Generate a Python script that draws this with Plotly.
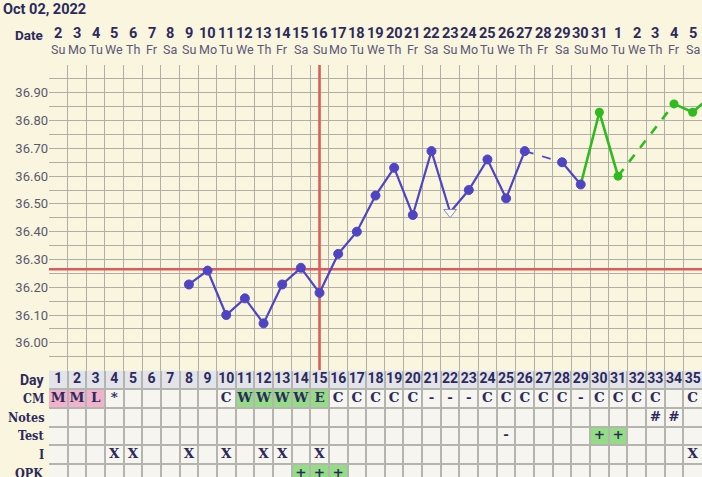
import plotly.graph_objects as go

# ---------------- data ----------------
cycle_days = list(range(1, 36))
date_labels = [str(d) for d in range(2, 32)] + [str(d) for d in range(1, 6)]
weekday_names = ["Su", "Mo", "Tu", "We", "Th", "Fr", "Sa"]
weekday_labels = [weekday_names[i % 7] for i in range(35)]

blue_days = list(range(8, 30))
blue_temps = [36.21, 36.26, 36.10, 36.16, 36.07, 36.21, 36.27, 36.18, 36.32, 36.40,
              36.53, 36.63, 36.46, 36.69, 36.47, 36.55, 36.66, 36.52, 36.69, None,
              36.65, 36.57]
open_days = [22]

green_days = [30, 31, 32, 33, 34, 35, 36]
green_temps = [36.83, 36.60, None, None, 36.86, 36.83, 36.89]

coverline = 36.265
ovulation_day = 15

cm_values = ["M", "M", "L", "*", "", "", "", "", "", "C", "W", "W", "W", "W", "E",
             "C", "C", "C", "C", "C", "-", "-", "-", "C", "C", "C", "C", "C", "-",
             "C", "C", "C", "C", "", "C"]
cm_colors = {1: "pink", 2: "pink", 3: "pink", 11: "green", 12: "green", 13: "green",
             14: "green", 15: "green"}
notes_values = {33: "#", 34: "#"}
test_values = {25: "-", 30: "+", 31: "+"}
test_colors = {30: "green", 31: "green"}
i_days = [4, 5, 8, 10, 12, 13, 15, 35]
opk_values = {14: "+", 15: "+", 16: "+"}
opk_colors = {14: "green", 15: "green", 16: "green"}

row_labels = ["Day", "CM", "Notes", "Test", "I", "OPK"]

# ---------------- style ----------------
W, H = 702, 477
ML, MT = 49, 65
chart_bottom_px = 370.6
plot_h = H - MT
split = (H - chart_bottom_px) / plot_h
row_px = (W - ML) / 35.0
table_rows_visible = (H - chart_bottom_px) / row_px

BG = "#f9f5de"
GRID = "#b0afa6"
TGRID = "#b5b5af"
NAVY = "#2c2a5c"
BLUE = "#4f45c4"
GREEN = "#2dbb1d"
RED = "#db5c5a"
CELL = "#f6f5ef"
DAYROW = "#e3e3ea"
PINK = "#f1b3cb"
CGREEN = "#95dc86"
fillmap = {"pink": PINK, "green": CGREEN}

SERIF = "DejaVu Serif, serif"
SERIF_C = "DejaVu Serif Condensed, DejaVu Serif, serif"
SANS = "Roboto, sans-serif"

fig = go.Figure()

# ---------- red lines (drawn first so data sits on top) ----------
fig.add_trace(go.Scatter(x=[0.5, 35.5], y=[coverline, coverline], mode="lines",
                         line=dict(color=RED, width=2.6), hoverinfo="skip"))
fig.add_trace(go.Scatter(x=[ovulation_day, ovulation_day], y=[35.9, 37.0], mode="lines",
                         line=dict(color=RED, width=2.6), hoverinfo="skip"))

# ---------- temperature lines ----------
def dashed_connectors(xs, ys):
    segs = []
    prev = None
    for x, y in zip(xs, ys):
        if y is None:
            continue
        if prev is not None and x - prev[0] > 1:
            segs.append((prev, (x, y)))
        prev = (x, y)
    return segs

g_x = [blue_days[-1]] + green_days
g_y = [blue_temps[-1]] + green_temps
fig.add_trace(go.Scatter(x=g_x, y=g_y, mode="lines", connectgaps=False,
                         line=dict(color=GREEN, width=2.6), hoverinfo="skip"))
for (a, b) in dashed_connectors(green_days, green_temps):
    fig.add_trace(go.Scatter(x=[a[0], b[0]], y=[a[1], b[1]], mode="lines",
                             line=dict(color=GREEN, width=2.6, dash="dash"), hoverinfo="skip"))
fig.add_trace(go.Scatter(x=green_days, y=green_temps, mode="markers",
                         marker=dict(color=GREEN, size=9, opacity=1), hoverinfo="skip"))

fig.add_trace(go.Scatter(x=blue_days, y=blue_temps, mode="lines", connectgaps=False,
                         line=dict(color=BLUE, width=2.2), hoverinfo="skip"))
for (a, b) in dashed_connectors(blue_days, blue_temps):
    fig.add_trace(go.Scatter(x=[a[0], b[0]], y=[a[1], b[1]], mode="lines",
                             line=dict(color=BLUE, width=1.8, dash="dash"), hoverinfo="skip"))
sym = ["triangle-down" if d in open_days else "circle" for d in blue_days]
mcol = ["#fbfbf6" if d in open_days else BLUE for d in blue_days]
msz = [11 if d in open_days else 9 for d in blue_days]
mlc = ["#8a87b8" if d in open_days else BLUE for d in blue_days]
fig.add_trace(go.Scatter(x=blue_days, y=blue_temps, mode="markers",
                         marker=dict(symbol=sym, color=mcol, size=msz, opacity=1,
                                     line=dict(color=mlc, width=1)),
                         hoverinfo="skip"))

# ---------- table ----------
def row_center(i):
    return -i - 0.5

def cell(day, row, color):
    fig.add_shape(type="rect", xref="x2", yref="y2", x0=day - 0.5, x1=day + 0.5,
                  y0=-row - 1, y1=-row, fillcolor=color, line=dict(width=0), layer="below")

fig.add_shape(type="rect", xref="x2", yref="y2", x0=0.5, x1=35.5, y0=-1, y1=0,
              fillcolor=DAYROW, line=dict(width=0), layer="below")
fig.add_shape(type="rect", xref="x2", yref="y2", x0=0.5, x1=35.5, y0=-len(row_labels), y1=-1,
              fillcolor=CELL, line=dict(width=0), layer="below")
for d, c in cm_colors.items():
    cell(d, 1, fillmap[c])
for d, c in test_colors.items():
    cell(d, 3, fillmap[c])
for d, c in opk_colors.items():
    cell(d, 5, fillmap[c])

fig.add_trace(go.Scatter(x=cycle_days, y=[row_center(0)] * 35, mode="text",
                         text=[f"<b>{d}</b>" for d in cycle_days], xaxis="x2", yaxis="y2",
                         textfont=dict(family=SANS, size=14, color=NAVY),
                         hoverinfo="skip", cliponaxis=False))

def text_row(row, mapping, size=13.5):
    xs = list(mapping.keys())
    fig.add_trace(go.Scatter(x=xs, y=[row_center(row)] * len(xs), mode="text",
                             text=[f"<b>{v}</b>" for v in mapping.values()],
                             xaxis="x2", yaxis="y2",
                             textfont=dict(family=SERIF, size=size, color=NAVY),
                             hoverinfo="skip", cliponaxis=False))

text_row(1, {d: v for d, v in zip(cycle_days, cm_values) if v})
text_row(2, notes_values)
text_row(3, test_values)
text_row(4, {d: "X" for d in i_days})
text_row(5, opk_values)

for i, lab in enumerate(row_labels):
    fig.add_annotation(xref="paper", x=0, xanchor="right", xshift=-3,
                       yref="y2", y=row_center(i), yanchor="middle", text=f"<b>{lab}</b>",
                       showarrow=False,
                       font=dict(family=SANS if lab == "Day" else SERIF_C,
                                 size=14 if lab == "Day" else 12.5, color=NAVY))

# ---------- header ----------
def paper_y(px):
    return (H - px) / plot_h

for d, dl, wl in zip(cycle_days, date_labels, weekday_labels):
    fig.add_annotation(xref="x", x=d, yref="paper", y=paper_y(33), yanchor="middle",
                       text=f"<b>{dl}</b>", showarrow=False,
                       font=dict(family=SANS, size=14.5, color=NAVY))
    fig.add_annotation(xref="x", x=d, yref="paper", y=paper_y(49), yanchor="middle",
                       text=wl, showarrow=False,
                       font=dict(family=SANS, size=12.5, color="#5a5878"))
fig.add_annotation(xref="paper", x=0, xanchor="right", xshift=-4, yref="paper",
                   y=paper_y(35), yanchor="middle", text="<b>Date</b>", showarrow=False,
                   font=dict(family=SANS, size=13.5, color=NAVY))

ytick_vals = [round(36.0 + 0.1 * i, 2) for i in range(10)]

fig.update_layout(
    width=W, height=H,
    margin=dict(l=ML, r=0, t=MT, b=0, autoexpand=False),
    paper_bgcolor=BG, plot_bgcolor=BG,
    showlegend=False,
    title=dict(text="<b>Oct 02, 2022</b>", xref="container", x=3 / W, xanchor="left",
               yref="container", y=1 - 9 / H, yanchor="middle",
               font=dict(family=SANS, size=14.5, color=NAVY)),
    xaxis=dict(range=[0.5, 35.5], domain=[0, 1], tick0=0.5, dtick=1, showticklabels=False,
               showgrid=True, gridcolor=GRID, gridwidth=1.4, zeroline=False, ticks="",
               anchor="y", fixedrange=True, automargin=False),
    yaxis=dict(range=[35.9, 37.0], domain=[split, 1], tickvals=ytick_vals,
               ticktext=[f"{v:.2f}" for v in ytick_vals], showgrid=True, gridcolor=GRID,
               gridwidth=1.4, zeroline=False, ticks="",
               tickfont=dict(family=SANS, size=13, color="#5a5870"),
               minor=dict(tick0=35.9, dtick=0.05, showgrid=True, gridcolor=GRID, gridwidth=1.4),
               anchor="x", fixedrange=True, automargin=False),
    xaxis2=dict(range=[0.5, 35.5], domain=[0, 1], tick0=0.5, dtick=1, showticklabels=False,
                showgrid=True, gridcolor=TGRID, gridwidth=1.5, zeroline=False, ticks="",
                anchor="y2", fixedrange=True, automargin=False),
    yaxis2=dict(range=[-table_rows_visible, 0], domain=[0, split], tick0=0, dtick=1,
                showticklabels=False, showgrid=True, gridcolor=TGRID, gridwidth=1.5,
                zeroline=False, ticks="", anchor="x2", fixedrange=True, automargin=False),
)

fig.write_html("out.html", config={"displayModeBar": False},
               post_script="document.body.style.margin='0px';document.body.style.background='%s';" % BG)
